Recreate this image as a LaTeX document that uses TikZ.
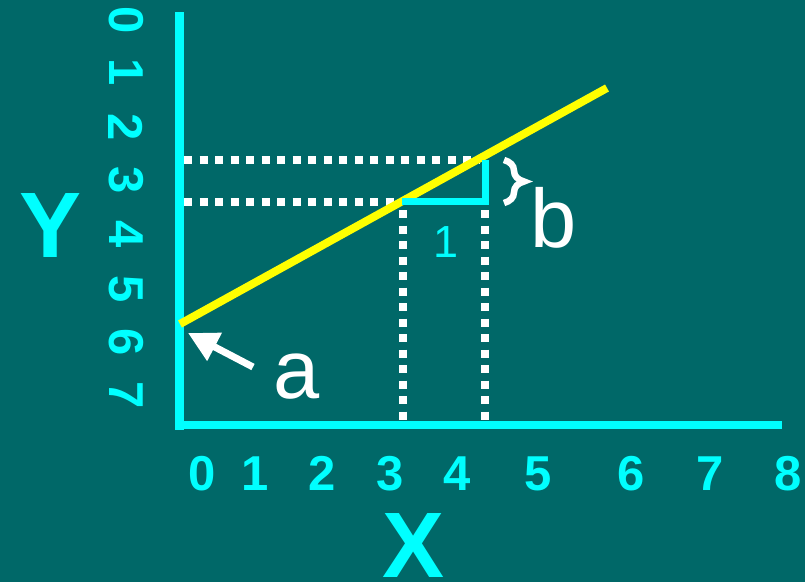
\documentclass[tikz,border=0pt]{standalone}
\usepackage{fontspec}
\setmainfont{Liberation Sans}
\usetikzlibrary{arrows.meta,decorations.pathreplacing}
\definecolor{slidebg}{RGB}{0,104,104}
\definecolor{axiscyan}{RGB}{0,255,255}
\definecolor{lineyellow}{RGB}{255,255,0}
\tikzset{
  axisline/.style={axiscyan,line width=8.5pt},
  guide/.style={white,line width=8pt,dash pattern=on 8pt off 7.5pt},
  ticklab/.style={axiscyan,inner sep=0pt,font=\fontsize{49}{49}\selectfont\bfseries},
  axislab/.style={axiscyan,inner sep=0pt,font=\fontsize{93}{93}\selectfont\bfseries},
  bigletter/.style={white,inner sep=0pt,font=\fontsize{83}{83}\selectfont},
}
\begin{document}
\begin{tikzpicture}[x=1pt,y=-1pt]
  \fill[slidebg] (0,0) rectangle (805,582);
  \useasboundingbox (0,0) rectangle (805,582);
  % guide lines
  \draw[guide] (184,160) -- (480,160);
  \draw[guide] (184,202) -- (398,202);
  \draw[guide] (403,210) -- (403,422);
  \draw[guide] (485,210) -- (485,422);
  % axes
  \draw[axisline] (179.5,12) -- (179.5,429.5);
  \draw[axisline] (175.5,425) -- (782,425);
  % regression line and unit step
  \draw[lineyellow,line width=8pt] (180,324) -- (607,88);
  \draw[axiscyan,line width=7pt] (402,201) -- (485,201) -- (485,160);
  \draw[white,line width=6.5pt,decorate,decoration={brace,amplitude=20pt,aspect=0.5}]
    (504,160) -- (504,203);
  % tick labels
  \foreach \n/\xpos in {0/202,1/255,2/322,3/390,4/457,5/538,6/631,7/710,8/788}
    \node[ticklab,anchor=base] (xt\n) at (\xpos,490) {\n};
  \foreach \n/\ypos in {0/20,1/72,2/127,3/180,4/234,5/289,6/342,7/395}
    \node[ticklab,rotate=-90] (yt\n) at (126,\ypos) {\n};
  % axis names
  \node[axislab,anchor=base] (ylab) at (51,257) {Y};
  \node[axislab,anchor=base] (xlab) at (414,577) {X};
  % labels
  \node[axiscyan,inner sep=0pt,anchor=base,font=\fontsize{45}{45}\selectfont] (unit) at (446,257) {1};
  \node[bigletter,anchor=base] (labA) at (297,398) {a};
  \node[bigletter,anchor=base] (labB) at (554,247) {b};
  \coordinate (atail) at (253,367);
  \coordinate (atip) at (188,333);
  \draw[white,line width=7pt,-{Triangle[length=30pt,width=30pt]}] (atail) -- (atip);
\end{tikzpicture}
\end{document}
